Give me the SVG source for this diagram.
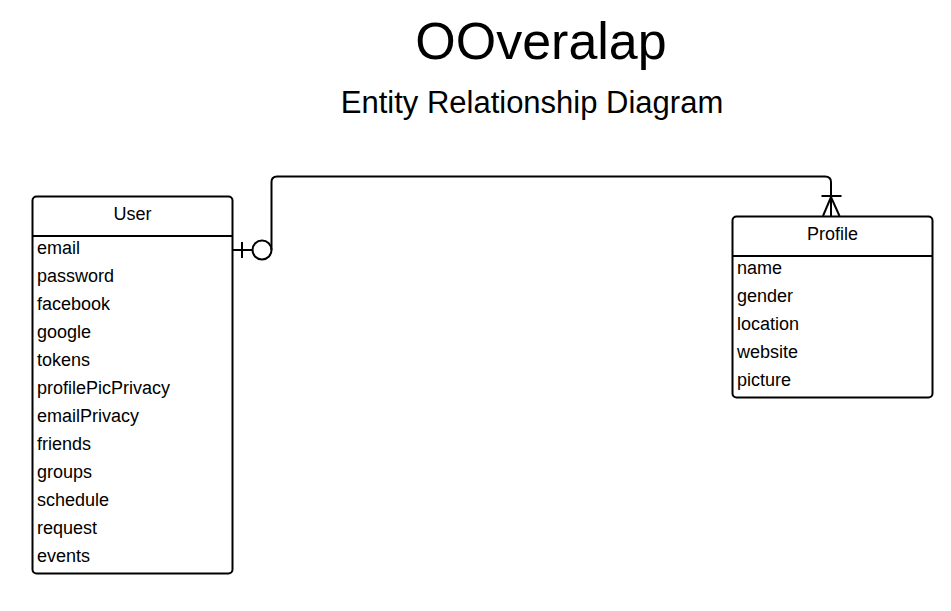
<svg xmlns="http://www.w3.org/2000/svg" width="951" height="611" viewBox="0 0 951 611">
<style>
  text { font-family: "Liberation Sans", Arial, sans-serif; fill: #000; }
  .box { fill: #fff; stroke: #000; stroke-width: 2; }
  .sep { stroke: #000; stroke-width: 2; }
  .hdr { font-size: 18px; text-anchor: middle; }
  .attr { font-size: 18px; }
  .conn { fill: none; stroke: #000; stroke-width: 2; }
</style>
<rect width="951" height="611" fill="#fff"/>
<g id="title">
  <text x="541" y="59" font-size="52" text-anchor="middle">OOveralap</text>
  <text x="532" y="113" font-size="31" text-anchor="middle">Entity Relationship Diagram</text>
</g>
<g id="connectors">
  <path class="conn" d="M232,250 H252"/>
  <line class="conn" x1="242" y1="242" x2="242" y2="258"/>
  <circle class="conn" cx="262" cy="250" r="9.5"/>
  <path class="conn" d="M271.5,250 V182 Q271.5,176.5 277,176.5 H825 Q831,176.5 831,182 V216"/>
  <line class="conn" x1="821.5" y1="196" x2="841.5" y2="196"/>
  <path class="conn" d="M823,216 L831,197 L839.5,216"/>
</g>
<g id="user">
  <rect class="box" x="32.5" y="196.5" width="200" height="377" rx="4"/>
  <line class="sep" x1="32.5" y1="236" x2="232.5" y2="236"/>
  <text class="hdr" x="132.5" y="220">User</text>
  <text class="attr" x="37" y="254">email</text>
  <text class="attr" x="37" y="282">password</text>
  <text class="attr" x="37" y="310">facebook</text>
  <text class="attr" x="37" y="338">google</text>
  <text class="attr" x="37" y="366">tokens</text>
  <text class="attr" x="37" y="394">profilePicPrivacy</text>
  <text class="attr" x="37" y="422">emailPrivacy</text>
  <text class="attr" x="37" y="450">friends</text>
  <text class="attr" x="37" y="478">groups</text>
  <text class="attr" x="37" y="506">schedule</text>
  <text class="attr" x="37" y="534">request</text>
  <text class="attr" x="37" y="562">events</text>
</g>
<g id="profile">
  <rect class="box" x="732.5" y="216.5" width="200" height="181" rx="4"/>
  <line class="sep" x1="732.5" y1="256" x2="932.5" y2="256"/>
  <text class="hdr" x="832.5" y="240">Profile</text>
  <text class="attr" x="737" y="274">name</text>
  <text class="attr" x="737" y="302">gender</text>
  <text class="attr" x="737" y="330">location</text>
  <text class="attr" x="737" y="358">website</text>
  <text class="attr" x="737" y="386">picture</text>
</g>
</svg>
